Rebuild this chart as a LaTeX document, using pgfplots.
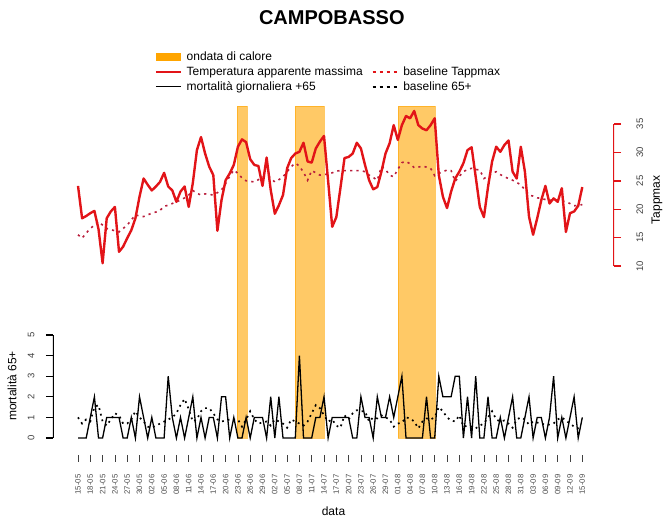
\documentclass[border=0pt]{standalone}
\usepackage{pgfplots}
\pgfplotsset{compat=1.18}
\usepackage{pgfplotstable}
\usepackage{fontspec}
\setmainfont{Liberation Sans}
\definecolor{tred}{RGB}{226,20,24}
\definecolor{bred}{RGB}{185,30,60}
\definecolor{bandc}{RGB}{255,165,0}

\pgfplotstableread{
i T TB M MB
0 24.1 15.5 0 1.0
1 18.4 14.9 0 0.7
2 18.8 15.8 0 0.9
3 19.3 16.6 1 0.8
4 19.7 17.2 2 1.5
5 16.5 17.8 0 1.6
6 10.5 17.2 0 0.8
7 18.4 16.6 1 0.6
8 19.6 16.4 1 0.9
9 20.4 16.2 1 1.2
10 12.5 16.0 1 1.1
11 13.4 16.6 0 0.7
12 14.9 17.2 0 0.7
13 16.3 18.1 1 0.9
14 18.4 19.0 0 1.3
15 22.2 18.8 2 1.0
16 25.4 18.7 1 0.8
17 24.3 19.0 0 0.55
18 23.3 19.3 1 0.5
19 24.0 19.5 0 0.6
20 24.8 19.8 0 0.7
21 26.4 20.5 0 0.8
22 24.0 20.7 3 0.9
23 23.3 21.0 1 1.0
24 21.3 21.3 0 1.2
25 23.1 21.6 1 1.6
26 24.0 22.0 0 1.9
27 20.4 22.5 1 1.4
28 24.6 23.3 2 0.8
29 30.4 22.8 0 0.9
30 32.7 22.5 1 1.3
31 29.8 22.7 0 1.45
32 27.5 22.6 1 1.45
33 26.0 22.5 1 1.2
34 16.2 22.9 0 0.9
35 21.6 23.4 2 0.8
36 25.1 24.5 2 0.85
37 26.3 25.8 0 0.9
38 27.8 26.9 1 0.9
39 31.0 26.3 0 0.9
40 32.3 25.5 0 0.55
41 31.8 25.0 1 0.9
42 28.8 24.9 0 1.3
43 27.8 24.8 1 0.9
44 27.6 25.2 1 0.7
45 24.1 25.6 1 0.75
46 29.1 26.0 0 0.8
47 23.4 25.5 2 0.6
48 19.2 24.8 0 0.9
49 20.7 25.2 2 0.8
50 22.5 25.7 0 0.7
51 27.2 26.6 0 0.5
52 29.0 27.5 0 0.9
53 29.8 28.1 0 0.8
54 30.1 27.6 4 0.7
55 31.7 26.5 0 0.6
56 28.4 25.1 0 0.8
57 28.2 26.8 0 1.2
58 30.7 26.4 1 1.6
59 31.9 26.0 1 1.45
60 32.9 26.1 2 1.1
61 25.0 26.2 0 0.8
62 16.9 26.4 1 0.9
63 18.6 26.7 1 0.6
64 23.7 26.8 1 0.5
65 29.0 26.8 1 1.1
66 29.2 26.8 1 0.9
67 29.8 26.8 0 1.2
68 31.7 26.8 0 1.35
69 30.7 26.8 2 1.3
70 27.8 26.6 1 1.3
71 25.1 26.0 1 0.8
72 23.5 25.6 0 1.0
73 23.9 25.1 2 0.95
74 26.6 27.5 1 1.1
75 29.8 27.0 1 1.0
76 31.6 26.0 2 0.9
77 34.8 25.7 1 0.55
78 32.2 27.0 2 0.7
79 34.8 28.2 3 0.75
80 36.4 28.4 0 1.0
81 36.0 28.0 0 0.95
82 37.3 27.3 0 0.8
83 34.8 27.4 0 0.47
84 34.2 27.6 0 0.8
85 33.9 27.4 2 0.95
86 34.8 27.2 0 0.9
87 36.0 25.9 0 1.0
88 26.0 26.3 3 1.5
89 22.2 26.6 2 1.3
90 20.2 26.9 2 1.0
91 23.1 26.8 2 0.85
92 25.4 24.9 3 0.8
93 26.6 25.8 3 1.1
94 28.1 26.6 0 0.55
95 30.4 27.0 2 0.6
96 30.9 27.2 0 0.55
97 25.7 27.0 3 0.47
98 20.4 26.9 0 0.6
99 18.6 25.4 0 0.7
100 23.9 25.8 2 1.0
101 28.4 26.3 0 1.3
102 31.0 26.6 0 0.9
103 30.1 26.1 1 0.8
104 31.3 25.7 0 0.85
105 32.1 25.4 1 0.7
106 26.6 25.1 2 0.5
107 25.4 24.7 0 0.9
108 31.0 24.3 0 1.0
109 26.6 23.4 1 0.9
110 18.7 22.5 2 0.65
111 15.5 22.3 0 0.8
112 18.4 22.0 1 0.75
113 21.6 21.9 1 0.7
114 24.1 21.7 0 0.65
115 21.0 21.6 1 0.65
116 21.9 21.6 3 0.7
117 21.3 21.6 0 0.9
118 23.7 21.5 1 1.0
119 16.0 21.3 0 0.85
120 19.3 21.0 1 0.7
121 19.6 20.6 2 0.55
122 20.6 20.7 0 0.47
123 23.9 20.8 1 0.4
}\data

\pgfplotsset{
  base/.style={scale only axis, width=561pt, height=349pt,
    anchor=south west, at={(53pt,69pt)}, xmin=-6.1, xmax=130.73,
    /pgf/number format/assume math mode=true},
}

\begin{document}
\begin{tikzpicture}
\useasboundingbox (0,0) rectangle (670pt,524pt);

% axis 1: heat-wave bands, x axis, title, legend
\begin{axis}[base, ymin=69, ymax=418,
  axis y line=none, axis x line*=bottom, x axis line style={draw=none},
  xtick={0,3,...,123},
  xticklabels={15-05,18-05,21-05,24-05,27-05,30-05,02-06,05-06,08-06,11-06,14-06,17-06,20-06,23-06,26-06,29-06,02-07,05-07,08-07,11-07,14-07,17-07,20-07,23-07,26-07,29-07,01-08,04-08,07-08,10-08,13-08,16-08,19-08,22-08,25-08,28-08,31-08,03-09,06-09,09-09,12-09,15-09},
  tick align=outside, major tick length=7pt,
  x tick style={black!75, line width=0.6pt},
  xticklabel style={rotate=90, anchor=east, font=\fontsize{7.8}{8}\selectfont, text=black!70, xshift=-9pt},
  xlabel={data}, xlabel style={font=\fontsize{12}{14}\selectfont, at={(axis description cs:0.5,-0.162)}, anchor=center},
  title={CAMPOBASSO}, title style={font=\bfseries\fontsize{20}{24}\selectfont, at={(axis description cs:0.497,1.235)}, anchor=center},
  legend style={draw=none, fill=none, at={(axis description cs:0.176,1.168)}, anchor=north west,
    font=\fontsize{12}{13}\selectfont, legend columns=2, row sep=0.8pt,
    /tikz/every even column/.append style={column sep=7pt},
    /tikz/every odd column/.append style={column sep=3pt}},
  legend cell align=left,
  legend image post style={xscale=1.45},
]
\addplot[fill=bandc, fill opacity=0.6, draw=bandc, draw opacity=0.6, forget plot] coordinates {(38.8,86) (41.2,86) (41.2,418) (38.8,418)} -- cycle;
\addplot[fill=bandc, fill opacity=0.6, draw=bandc, draw opacity=0.6, forget plot] coordinates {(53.0,86) (60.1,86) (60.1,418) (53.0,418)} -- cycle;
\addplot[fill=bandc, fill opacity=0.6, draw=bandc, draw opacity=0.6, forget plot] coordinates {(78.0,86) (87.1,86) (87.1,418) (78.0,418)} -- cycle;
\draw[black!75, line width=0.6pt] (axis cs:0,69) -- (axis cs:123,69);
\addlegendimage{area legend, fill=bandc, draw=bandc, yscale=1.25}
\addlegendentry{ondata di calore}
\addlegendimage{empty legend}
\addlegendentry{}
\addlegendimage{draw=tred, line width=2pt}
\addlegendentry{Temperatura apparente massima}
\addlegendimage{draw=tred, line width=1.8pt, dash pattern=on 3pt off 4pt}
\addlegendentry{baseline Tappmax}
\addlegendimage{draw=black, line width=1.3pt}
\addlegendentry{mortalità giornaliera +65}
\addlegendimage{draw=black, line width=1.8pt, dash pattern=on 3pt off 4pt}
\addlegendentry{baseline 65+}
\end{axis}

% axis 2: apparent temperature (right axis)
\begin{axis}[base, ymin=-23.27, ymax=38.17,
  axis x line=none, axis y line*=right, y axis line style={draw=none},
  ytick={10,15,...,35}, tick align=outside, major tick length=7pt,
  y tick style={tred, line width=1.4pt},
  yticklabel style={rotate=90, anchor=north, font=\fontsize{9.5}{10}\selectfont, text=black!75, yshift=-12pt},
  ylabel={Tappmax}, ylabel style={font=\fontsize{12}{14}\selectfont, at={(axis description cs:1.0767,0.7307)}, anchor=center, rotate=0},
]
\draw[tred, line width=1.4pt] (axis cs:130.73,10) -- (axis cs:130.73,35);
\addplot[bred, line width=1.6pt, dash pattern=on 2.2pt off 4.2pt] table[x=i, y=TB] {\data};
\addplot[tred, line width=2.4pt, line join=round] table[x=i, y=T] {\data};
\end{axis}

% axis 3: mortality (left axis)
\begin{axis}[base, ymin=-0.825, ymax=16.12,
  axis x line=none, axis y line*=left, y axis line style={draw=none},
  ytick={0,1,...,5}, tick align=outside, major tick length=7pt,
  y tick style={black, line width=1.2pt},
  yticklabel style={rotate=90, anchor=south, font=\fontsize{9.5}{10}\selectfont, text=black!75, yshift=8pt},
  ylabel={mortalità 65+}, ylabel style={font=\fontsize{12}{14}\selectfont, at={(axis description cs:-0.0731,0.1977)}, anchor=center},
]
\draw[black, line width=1.2pt] (axis cs:-6.1,0) -- (axis cs:-6.1,5);
\addplot[black, line width=1.7pt, dash pattern=on 1.8pt off 4pt] table[x=i, y=MB] {\data};
\addplot[black, line width=1.3pt, line join=miter] table[x=i, y=M] {\data};
\end{axis}
\end{tikzpicture}
\end{document}
